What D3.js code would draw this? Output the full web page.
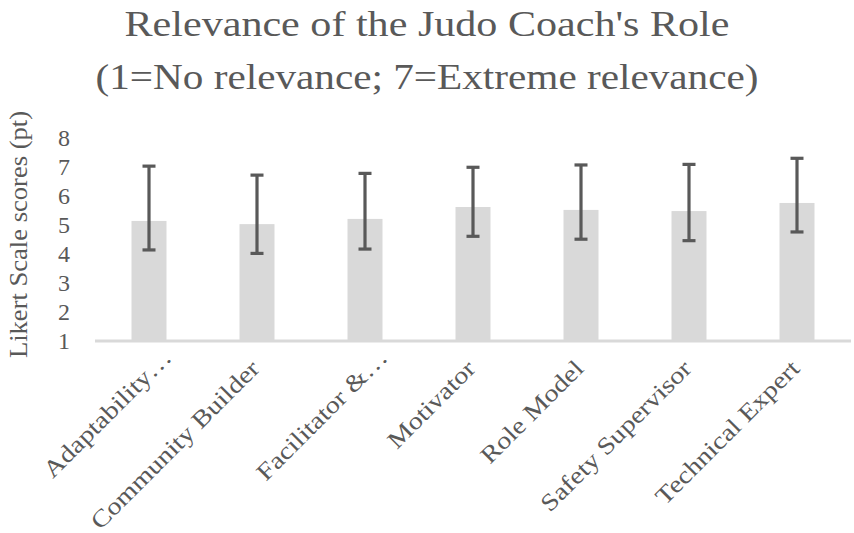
<!DOCTYPE html>
<html>
<head>
<meta charset="utf-8">
<script src="https://cdn.jsdelivr.net/npm/d3@7"></script>
<style>
  html, body { margin: 0; padding: 0; background: #fff; }
  svg { display: block; }
  text { font-family: "Liberation Serif", "Times New Roman", serif; fill: #595959; }
</style>
</head>
<body>
<svg id="chart" width="854" height="533"></svg>
<script>
// ---- data ----
const categories = ["Adaptability…", "Community Builder", "Facilitator &…", "Motivator", "Role Model", "Safety Supervisor", "Technical Expert"];
const means = [5.14, 5.03, 5.21, 5.62, 5.52, 5.48, 5.76];
const errPlus = [1.89, 1.69, 1.57, 1.37, 1.55, 1.61, 1.54];
const errMinus = [1.00, 1.01, 1.04, 1.01, 1.01, 1.02, 1.00];
const yTicks = [1, 2, 3, 4, 5, 6, 7, 8];
const titleLines = ["Relevance of the Judo Coach's Role", "(1=No relevance; 7=Extreme relevance)"];
const yTitle = "Likert Scale scores (pt)";

// ---- layout ----
const W = 854, H = 533;
const plot = { left: 95, right: 851, top: 138, bottom: 341 };
const svg = d3.select("#chart");
const STRETCH = 1.18; // Palatino-like width vs Liberation Serif

const x = d3.scaleBand().domain(categories).range([plot.left, plot.right])
  .paddingInner(0.676).paddingOuter(0.338);
const y = d3.scaleLinear().domain([1, 8]).range([plot.bottom, plot.top]);

const data = categories.map((c, i) => ({ c, m: means[i], p: errPlus[i], n: errMinus[i] }));

// Title
svg.append("g").selectAll("text").data(titleLines).join("text")
  .attr("x", W / 2)
  .attr("y", (d, i) => i === 0 ? 36 : 89)
  .attr("text-anchor", "middle")
  .attr("font-size", 36)
  .attr("textLength", (d, i) => i === 0 ? 605 : 663)
  .attr("lengthAdjust", "spacingAndGlyphs")
  .text(d => d);

// Bars
svg.append("g").selectAll("rect").data(data).join("rect")
  .attr("x", d => x(d.c))
  .attr("width", x.bandwidth())
  .attr("y", d => y(d.m))
  .attr("height", d => y(1) - y(d.m))
  .attr("fill", "#d9d9d9");

// Axis line
svg.append("line")
  .attr("x1", plot.left).attr("x2", plot.right)
  .attr("y1", y(1)).attr("y2", y(1))
  .attr("stroke", "#d9d9d9").attr("stroke-width", 3);

// Error bars
const eb = svg.append("g").attr("stroke", "#595959").attr("stroke-width", 3.2);
const capW = 13;
data.forEach(d => {
  const cx = x(d.c) + x.bandwidth() / 2;
  eb.append("line").attr("x1", cx).attr("x2", cx).attr("y1", y(d.m + d.p)).attr("y2", y(d.m - d.n));
  eb.append("line").attr("x1", cx - capW / 2).attr("x2", cx + capW / 2).attr("y1", y(d.m + d.p)).attr("y2", y(d.m + d.p));
  eb.append("line").attr("x1", cx - capW / 2).attr("x2", cx + capW / 2).attr("y1", y(d.m - d.n)).attr("y2", y(d.m - d.n));
});

// Y tick labels
svg.append("g").selectAll("text").data(yTicks).join("text")
  .attr("x", 70)
  .attr("y", d => y(d))
  .attr("dy", "0.35em")
  .attr("text-anchor", "end")
  .attr("font-size", 24)
  .text(d => d);

// Y axis title
svg.append("text")
  .attr("transform", "translate(27," + ((plot.top + plot.bottom) / 2 - 5) + ") rotate(-90)")
  .attr("text-anchor", "middle")
  .attr("font-size", 25)
  .attr("textLength", 247)
  .attr("lengthAdjust", "spacingAndGlyphs")
  .text(yTitle);

// X labels
const xl = svg.append("g").selectAll("text").data(categories).join("text")
  .attr("text-anchor", "end")
  .attr("font-size", 24)
  .attr("transform", d => {
    let cx = x(d) + x.bandwidth() / 2 + 4;
    let cy = 370;
    if (d.endsWith("…")) { cx += 20; cy -= 11; }
    return "translate(" + cx + "," + cy + ") rotate(-45)";
  })
  .text(d => d);
xl.each(function () {
  const L = this.getComputedTextLength();
  d3.select(this).attr("textLength", L * STRETCH).attr("lengthAdjust", "spacingAndGlyphs");
});
</script>
</body>
</html>
